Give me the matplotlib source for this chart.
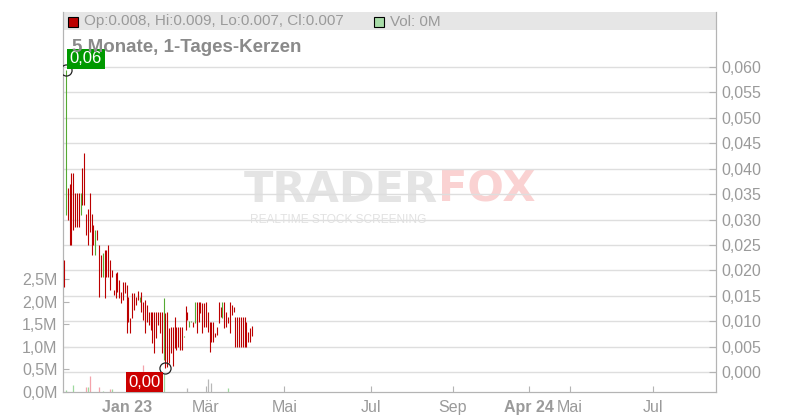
import matplotlib
matplotlib.use("Agg")
import matplotlib.pyplot as plt
from matplotlib.patches import Rectangle
import numpy as np

plt.rcParams['font.family'] = ['Liberation Sans', 'DejaVu Sans']

# Daily bars (trading-day index 0..102), prices in EUR
highs = [0.0220, 0.0594, 0.0362, 0.0370, 0.0392, 0.0392, 0.0352, 0.0352, 0.0352, 0.0352,
         0.0401, 0.0431, 0.0311, 0.0321, 0.0352, 0.0311, 0.0289, 0.0279, 0.0279, 0.0250,
         0.0230, 0.0234, 0.0240, 0.0240, 0.0250, 0.0220, 0.0201, 0.0161, 0.0195, 0.0197,
         0.0181, 0.0157, 0.0177, 0.0177, 0.0171, 0.0148, 0.0106, 0.0155, 0.0155, 0.0148,
         0.0159, 0.0148, 0.0157, 0.0138, 0.0142, 0.0132, 0.0118, 0.0118, 0.0118, 0.0118,
         0.0118, 0.0118, 0.0118, 0.0118, 0.0146, 0.0116, 0.0118, 0.0087, 0.0089, 0.0089,
         0.0108, 0.0089, 0.0089, 0.0089, 0.0089, 0.0071, 0.0130, 0.0118, 0.0100, 0.0101,
         0.0098, 0.0138, 0.0138, 0.0138, 0.0138, 0.0136, 0.0136, 0.0138, 0.0118, 0.0098,
         0.0098, 0.0098, 0.0077, 0.0089, 0.0138, 0.0128, 0.0138, 0.0138, 0.0118, 0.0108,
         0.0138, 0.0132, 0.0128, 0.0108, 0.0108, 0.0108, 0.0108, 0.0108, 0.0108, 0.0098,
         0.0079, 0.0087, 0.0090]
lows = [0.0167, 0.0309, 0.0299, 0.0250, 0.0250, 0.0279, 0.0285, 0.0285, 0.0285, 0.0309,
        0.0329, 0.0329, 0.0270, 0.0250, 0.0275, 0.0230, 0.0250, 0.0230, 0.0260, 0.0148,
        0.0187, 0.0187, 0.0146, 0.0187, 0.0187, 0.0161, 0.0187, 0.0151, 0.0146, 0.0157,
        0.0146, 0.0136, 0.0142, 0.0155, 0.0077, 0.0098, 0.0077, 0.0106, 0.0122, 0.0132,
        0.0142, 0.0138, 0.0118, 0.0102, 0.0077, 0.0098, 0.0092, 0.0083, 0.0057, 0.0037,
        0.0067, 0.0092, 0.0077, 0.0037, 0.0024, 0.0008, 0.0010, 0.0018, 0.0037, 0.0012,
        0.0047, 0.0043, 0.0049, 0.0043, 0.0043, 0.0069, 0.0083, 0.0102, 0.0089, 0.0099,
        0.0089, 0.0096, 0.0077, 0.0098, 0.0116, 0.0077, 0.0089, 0.0089, 0.0079, 0.0039,
        0.0059, 0.0059, 0.0069, 0.0073, 0.0096, 0.0108, 0.0106, 0.0087, 0.0089, 0.0096,
        0.0077, 0.0112, 0.0118, 0.0049, 0.0049, 0.0049, 0.0049, 0.0049, 0.0049, 0.0049,
        0.0059, 0.0059, 0.0070]
# 1 = close above open (green), 0 = red
up = [0, 1, 0, 0, 0, 0, 0, 0, 0, 1, 0, 0, 0, 0, 0, 0, 0, 1, 0, 0,
      0, 1, 0, 0, 0, 0, 0, 0, 0, 0, 0, 0, 0, 0, 0, 0, 0, 0, 0, 0,
      0, 1, 0, 0, 0, 0, 0, 0, 0, 0, 0, 0, 0, 0, 1, 0, 0, 0, 0, 0,
      0, 0, 0, 0, 0, 1, 0, 0, 1, 1, 0, 1, 0, 0, 0, 0, 0, 0, 0, 0,
      0, 0, 0, 0, 0, 0, 1, 0, 0, 0, 0, 0, 0, 0, 0, 0, 0, 0, 0, 0,
      0, 0, 0]
last_open = 0.008
last_close = 0.007

# Volume (only the days with visible volume), in millions
vol_day = [1, 5, 12, 13, 14, 19, 21, 25, 26, 34, 43, 54, 67, 78, 80, 89]
vol_mio = [0.04, 0.16, 0.11, 0.11, 0.36, 0.11, 0.03, 0.07, 0.07, 0.11, 0.60, 0.40,
           0.09, 0.29, 0.20, 0.09]
vol_dir = ['u', 'u', 'd', 'u', 'd', 'd', 'u', 'd', 'u', 'd', 'd', 'u', 'n', 'n', 'n', 'u']

# x axis labels (trading-day index on the chart's time axis)
tick_labels = ['Jan 23', 'Mär', 'Mai', 'Jul', 'Sep', 'Apr 24', 'Mai', 'Jul']
tick_days = [34, 77, 119.5, 166.5, 211, 252.5, 274.5, 319.5]
price_ticks = [0.000, 0.005, 0.010, 0.015, 0.020, 0.025, 0.030, 0.035,
               0.040, 0.045, 0.050, 0.055, 0.060]
vol_ticks = [0.0, 0.5, 1.0, 1.5, 2.0, 2.5]

RED = '#bb0000'
GREEN = '#55aa33'
AXIS = '#b4b4b4'
LABEL = '#9a9a9a'

fig = plt.figure(figsize=(8, 4.2), dpi=100)
ax_vol = fig.add_axes([63 / 800, 28 / 420, 653 / 800, 380.3 / 420])
ax = ax_vol.twinx()

days = np.arange(len(highs))

# Volume axis (left)
vol_colors = {'u': '#9ed89e', 'd': '#f4a3ab', 'n': '#b8b8b8'}
ax_vol.vlines(vol_day, 0, vol_mio, colors=[vol_colors[d] for d in vol_dir], lw=0.9)
ax_vol.set_ylim(0, 8.45)
ax_vol.set_yticks(vol_ticks)
ax_vol.set_yticklabels([f"{v:.1f}M".replace('.', ',') for v in vol_ticks])
ax_vol.set_xlim(-0.54, 353.8)
ax_vol.set_xticks(tick_days)
ax_vol.set_xticklabels(tick_labels)
for lbl in ax_vol.get_xticklabels():
    if ' ' in lbl.get_text():
        lbl.set_fontweight('bold')
        lbl.set_color('#8c8c8c')
ax_vol.tick_params(axis='both', direction='in', length=4, color=AXIS,
                   labelcolor=LABEL, labelsize=11.5, pad=4)
ax_vol.tick_params(axis='x', pad=6)

# Legend bar and watermark in the bottom layer
ax_vol.add_patch(Rectangle((0, 0.952), 1, 0.048, transform=ax_vol.transAxes,
                           facecolor='#e6e6e6', edgecolor='none', zorder=0))
ax_vol.text(0.574, 0.50, 'TRADER', transform=ax_vol.transAxes, ha='right', va='baseline',
            fontsize=31, fontweight='bold', family='DejaVu Sans', color='#e4e4e4', zorder=0)
ax_vol.text(0.574, 0.50, 'FOX', transform=ax_vol.transAxes, ha='left', va='baseline',
            fontsize=31, fontweight='bold', family='DejaVu Sans', color='#fad2d2', zorder=0)
ax_vol.text(0.287, 0.444, 'REALTIME STOCK SCREENING', transform=ax_vol.transAxes,
            ha='left', va='baseline', fontsize=8.6, color='#e2e2e2', zorder=0)

# Price axis (right)
ax.grid(True, color='#dedede', lw=1.0)
ax.set_axisbelow(True)
ax.vlines(days, lows, highs, colors=[GREEN if u else RED for u in up], lw=0.8, zorder=3)
ax.set_ylim(-0.00394, 0.0709)
ax.set_yticks(price_ticks)
ax.set_yticklabels([f"{v:.3f}".replace('.', ',') for v in price_ticks])
ax.tick_params(axis='y', direction='in', length=5, color=AXIS,
               labelcolor=LABEL, labelsize=11.5, pad=4)
ax.patch.set_visible(False)

for a in (ax, ax_vol):
    a.spines['top'].set_visible(False)
    for s in ('left', 'right', 'bottom'):
        a.spines[s].set_color(AXIS)

# Max / min markers
i_hi = int(np.argmax(highs))
i_lo = int(np.argmin(lows))
ax.plot([i_hi, i_lo], [highs[i_hi], lows[i_lo]], 'o', ms=8, mfc='none', mec='#222222',
        mew=0.9, zorder=5)
ax.annotate(f"{highs[i_hi]:.2f}".replace('.', ','), (i_hi, highs[i_hi]),
            xytext=(4, 4), textcoords='offset pixels', ha='left', va='bottom',
            color='white', fontsize=12,
            bbox=dict(boxstyle='square,pad=0.15', fc='#009900', ec='none'), zorder=6)
ax.annotate(f"{lows[i_lo]:.2f}".replace('.', ','), (i_lo, lows[i_lo]),
            xytext=(-5, -7), textcoords='offset pixels', ha='right', va='top',
            color='white', fontsize=12,
            bbox=dict(boxstyle='square,pad=0.15', fc='#cc0000', ec='none'), zorder=6)

# Header texts
fig.patches.append(Rectangle((68 / 800, 1 - 27 / 420), 9.5 / 800, 9.5 / 420,
                             transform=fig.transFigure, fc=GREEN if up[-1] else RED,
                             ec='black', lw=0.8))
fig.text(84 / 800, 1 - 21.5 / 420,
         f"Op:{last_open:.3f}, Hi:{highs[-1]:.3f}, Lo:{lows[-1]:.3f}, Cl:{last_close:.3f}",
         va='center', ha='left', fontsize=11, color=LABEL)
fig.patches.append(Rectangle((374 / 800, 1 - 27 / 420), 9.5 / 800, 9.5 / 420,
                             transform=fig.transFigure, fc='#a8dca8', ec='black', lw=0.8))
fig.text(390 / 800, 1 - 21.5 / 420, "Vol: 0M", va='center', ha='left',
         fontsize=11, color=LABEL)
fig.text(72 / 800, 1 - 47 / 420, "5 Monate, 1-Tages-Kerzen", va='center', ha='left',
         fontsize=13.5, fontweight='bold', color='#8a8a8a')

plt.savefig('out.png', dpi=100)
